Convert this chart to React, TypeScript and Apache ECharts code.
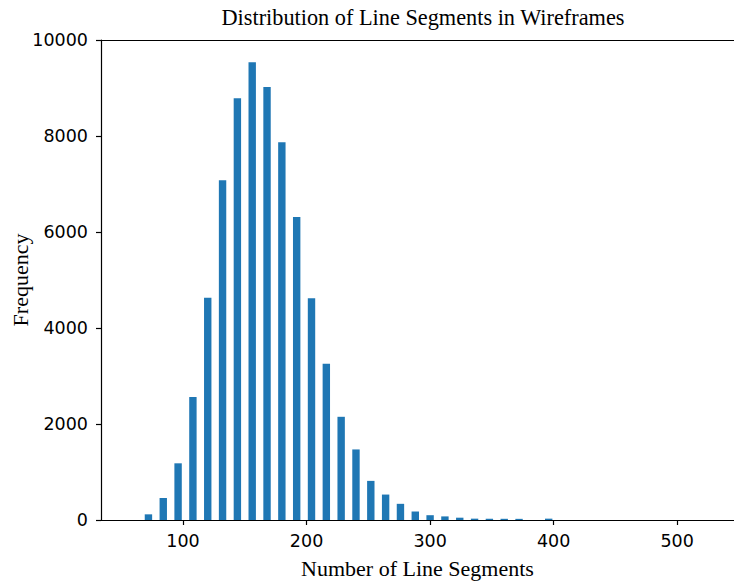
import React, { useEffect, useRef } from "react";
import * as echarts from "echarts";

const binCenters = [72, 84, 96, 108, 120, 132, 144, 156, 168, 180, 192, 204, 216, 228, 240, 252, 264, 276, 288, 300, 312, 324, 336, 348, 360, 372, 384, 396];
const counts = [118, 458, 1181, 2562, 4632, 7077, 8785, 9535, 9021, 7868, 6312, 4618, 3257, 2150, 1470, 815, 530, 337, 177, 100, 75, 48, 28, 26, 25, 24, 0, 28];
const xTicks = [100, 200, 300, 400, 500];
const yTicks = [0, 2000, 4000, 6000, 8000, 10000];

export default function App() {
  const ref = useRef<HTMLDivElement>(null);
  useEffect(() => {
    if (!ref.current) return;
    const chart = echarts.init(ref.current, undefined, { renderer: "svg" });
    const serif = "'Liberation Serif', 'Times New Roman', serif";
    const sans = "'DejaVu Sans', sans-serif";
    chart.setOption({
      animation: false,
      title: {
        text: "Distribution of Line Segments in Wireframes",
        left: 418,
        textAlign: "center",
        top: 1,
        textStyle: { fontFamily: serif, fontSize: 22.3, fontWeight: "normal", color: "#000" },
      },
      grid: { left: 101, right: 0, top: 40, bottom: 67, containLabel: false, outerBoundsMode: "none" },
      xAxis: [
        {
          type: "value",
          min: 33.6,
          max: 546,
          name: "Number of Line Segments",
          nameLocation: "middle",
          nameGap: 37,
          nameTextStyle: { fontFamily: serif, fontSize: 22, color: "#000" },
          axisLine: { show: true, onZero: false, lineStyle: { color: "#000", width: 1.2 } },
          axisTick: { show: true, length: 5, customValues: xTicks, lineStyle: { color: "#000", width: 1.2 } },
          axisLabel: { customValues: xTicks, margin: 12, fontFamily: sans, fontSize: 17.5, color: "#000" },
          splitLine: { show: false },
        },
        {
          type: "value",
          position: "top",
          min: 33.6,
          max: 546,
          axisLine: { show: true, onZero: false, lineStyle: { color: "#000", width: 1.2 } },
          axisTick: { show: false },
          axisLabel: { show: false },
          splitLine: { show: false },
        },
      ],
      yAxis: {
        type: "value",
        min: 0,
        max: 10000,
        interval: 2000,
        name: "Frequency",
        nameLocation: "middle",
        nameGap: 70,
        nameMoveOverlap: false,
        nameRotate: 90,
        nameTextStyle: { fontFamily: serif, fontSize: 22, color: "#000" },
        axisLine: { show: true, lineStyle: { color: "#000", width: 1.2 } },
        axisTick: { show: true, length: 5, lineStyle: { color: "#000", width: 1.2 } },
        axisLabel: {
          customValues: yTicks,
          formatter: (v: number) => String(v),
          margin: 13,
          fontFamily: sans,
          fontSize: 17.5,
          color: "#000",
        },
        splitLine: { show: false },
      },
      series: [
        {
          type: "bar",
          xAxisIndex: 0,
          barWidth: 7.4,
          itemStyle: { color: "#1f77b4" },
          data: binCenters.map((c, i) => [c, counts[i]]),
        },
      ],
    });
    return () => chart.dispose();
  }, []);
  return <div ref={ref} style={{ width: 734, height: 587, position: "absolute", left: 0, top: 0 }} />;
}
